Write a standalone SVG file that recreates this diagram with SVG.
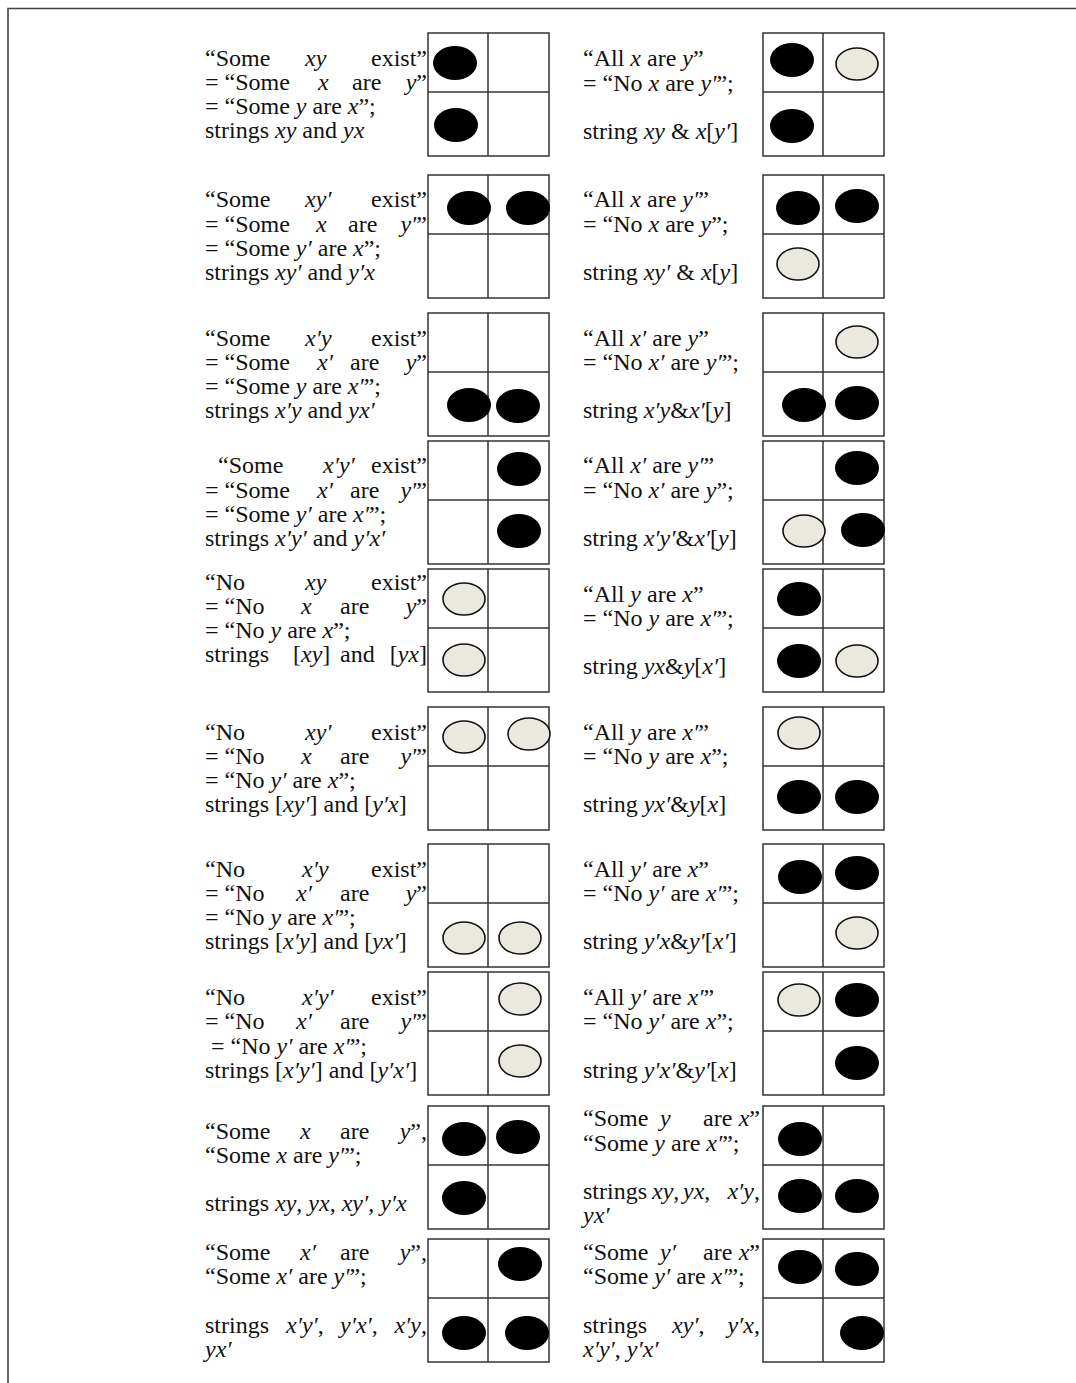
<svg xmlns="http://www.w3.org/2000/svg" xmlns:xlink="http://www.w3.org/1999/xlink" width="1076" height="1383" viewBox="0 0 1076 1383">
<style>
.t{font-family:"Liberation Serif","Times New Roman",serif;font-size:24px;fill:#111}
.i{font-style:italic}
.e{text-anchor:end}
.box rect{fill:none;stroke:#333;stroke-width:1.5}
.box line{stroke:#333;stroke-width:1.5}
.b{fill:#000}
.w{fill:#ebe8df;stroke:#111;stroke-width:1.6}
.frame{stroke:#444;stroke-width:1.6;fill:none}
</style>
<defs>
<g id="grid" class="box"><rect x="0" y="0" width="121" height="123"/><line x1="60" y1="0" x2="60" y2="123"/><line x1="0" y1="59" x2="121" y2="59"/></g>
</defs>
<rect width="1076" height="1383" fill="#fff"/>
<g id="frame"><path class="frame" d="M8,1383 V8.5 H1076"/></g>

<!-- LEFT COLUMN -->
<g id="L1" class="t">
<text y="66"><tspan x="205">“Some</tspan><tspan x="305" class="i">xy</tspan><tspan x="427" class="e">exist”</tspan></text>
<text y="90"><tspan x="205">= “Some</tspan><tspan x="318" class="i">x</tspan><tspan x="352">are</tspan><tspan x="427" class="e"><tspan class="i">y</tspan>”</tspan></text>
<text x="205" y="114">= “Some <tspan class="i">y</tspan> are <tspan class="i">x</tspan>”;</text>
<text x="205" y="138">strings <tspan class="i">xy</tspan> and <tspan class="i">yx</tspan></text>
<use href="#grid" x="428" y="33"/>
<ellipse class="b" cx="455" cy="63" rx="22" ry="17"/><ellipse class="b" cx="456" cy="125" rx="22" ry="17"/>
</g>
<g id="L2" class="t">
<text y="207"><tspan x="205">“Some</tspan><tspan x="305" class="i">xy′</tspan><tspan x="427" class="e">exist”</tspan></text>
<text y="232"><tspan x="205">= “Some</tspan><tspan x="316" class="i">x</tspan><tspan x="348">are</tspan><tspan x="427" class="e"><tspan class="i">y′</tspan>”</tspan></text>
<text x="205" y="256">= “Some <tspan class="i">y′</tspan> are <tspan class="i">x</tspan>”;</text>
<text x="205" y="280">strings <tspan class="i">xy′</tspan> and <tspan class="i">y′x</tspan></text>
<use href="#grid" x="428" y="175"/>
<ellipse class="b" cx="469" cy="208" rx="22" ry="17"/><ellipse class="b" cx="528" cy="208" rx="22" ry="17"/>
</g>
<g id="L3" class="t">
<text y="346"><tspan x="205">“Some</tspan><tspan x="305" class="i">x′y</tspan><tspan x="427" class="e">exist”</tspan></text>
<text y="370"><tspan x="205">= “Some</tspan><tspan x="317" class="i">x′</tspan><tspan x="350">are</tspan><tspan x="427" class="e"><tspan class="i">y</tspan>”</tspan></text>
<text x="205" y="394">= “Some <tspan class="i">y</tspan> are <tspan class="i">x′</tspan>”;</text>
<text x="205" y="418">strings <tspan class="i">x′y</tspan> and <tspan class="i">yx′</tspan></text>
<use href="#grid" x="428" y="313"/>
<ellipse class="b" cx="469" cy="405" rx="22" ry="17"/><ellipse class="b" cx="518" cy="406" rx="22" ry="17"/>
</g>
<g id="L4" class="t">
<text y="473"><tspan x="218">“Some</tspan><tspan x="323" class="i">x′y′</tspan><tspan x="427" class="e">exist”</tspan></text>
<text y="498"><tspan x="205">= “Some</tspan><tspan x="317" class="i">x′</tspan><tspan x="350">are</tspan><tspan x="427" class="e"><tspan class="i">y′</tspan>”</tspan></text>
<text x="205" y="522">= “Some <tspan class="i">y′</tspan> are <tspan class="i">x′</tspan>”;</text>
<text x="205" y="546">strings <tspan class="i">x′y′</tspan> and <tspan class="i">y′x′</tspan></text>
<use href="#grid" x="428" y="441"/>
<ellipse class="b" cx="519" cy="469" rx="22" ry="17"/><ellipse class="b" cx="519" cy="531" rx="22" ry="17"/>
</g>
<g id="L5" class="t">
<text y="590"><tspan x="205">“No</tspan><tspan x="305" class="i">xy</tspan><tspan x="427" class="e">exist”</tspan></text>
<text y="614"><tspan x="205">= “No</tspan><tspan x="301" class="i">x</tspan><tspan x="340">are</tspan><tspan x="427" class="e"><tspan class="i">y</tspan>”</tspan></text>
<text x="205" y="638">= “No <tspan class="i">y</tspan> are <tspan class="i">x</tspan>”;</text>
<text y="662"><tspan x="205">strings</tspan><tspan x="293">[<tspan class="i">xy</tspan>]</tspan><tspan x="340">and</tspan><tspan x="427" class="e">[<tspan class="i">yx</tspan>]</tspan></text>
<use href="#grid" x="428" y="569"/>
<ellipse class="w" cx="464" cy="599" rx="21" ry="16"/><ellipse class="w" cx="464" cy="660" rx="21" ry="16"/>
</g>
<g id="L6" class="t">
<text y="740"><tspan x="205">“No</tspan><tspan x="305" class="i">xy′</tspan><tspan x="427" class="e">exist”</tspan></text>
<text y="764"><tspan x="205">= “No</tspan><tspan x="301" class="i">x</tspan><tspan x="340">are</tspan><tspan x="427" class="e"><tspan class="i">y′</tspan>”</tspan></text>
<text x="205" y="788">= “No <tspan class="i">y′</tspan> are <tspan class="i">x</tspan>”;</text>
<text x="205" y="812">strings [<tspan class="i">xy′</tspan>] and [<tspan class="i">y′x</tspan>]</text>
<use href="#grid" x="428" y="707"/>
<ellipse class="w" cx="464" cy="737" rx="21" ry="16"/><ellipse class="w" cx="529" cy="734" rx="21" ry="16"/>
</g>
<g id="L7" class="t">
<text y="877"><tspan x="205">“No</tspan><tspan x="302" class="i">x′y</tspan><tspan x="427" class="e">exist”</tspan></text>
<text y="901"><tspan x="205">= “No</tspan><tspan x="296" class="i">x′</tspan><tspan x="340">are</tspan><tspan x="427" class="e"><tspan class="i">y</tspan>”</tspan></text>
<text x="205" y="925">= “No <tspan class="i">y</tspan> are <tspan class="i">x′</tspan>”;</text>
<text x="205" y="949">strings [<tspan class="i">x′y</tspan>] and [<tspan class="i">yx′</tspan>]</text>
<use href="#grid" x="428" y="844"/>
<ellipse class="w" cx="464" cy="938" rx="21" ry="16"/><ellipse class="w" cx="520" cy="938" rx="21" ry="16"/>
</g>
<g id="L8" class="t">
<text y="1005"><tspan x="205">“No</tspan><tspan x="302" class="i">x′y′</tspan><tspan x="427" class="e">exist”</tspan></text>
<text y="1029"><tspan x="205">= “No</tspan><tspan x="296" class="i">x′</tspan><tspan x="340">are</tspan><tspan x="427" class="e"><tspan class="i">y′</tspan>”</tspan></text>
<text x="211" y="1054">= “No <tspan class="i">y′</tspan> are <tspan class="i">x′</tspan>”;</text>
<text x="205" y="1078">strings [<tspan class="i">x′y′</tspan>] and [<tspan class="i">y′x′</tspan>]</text>
<use href="#grid" x="428" y="972"/>
<ellipse class="w" cx="520" cy="999" rx="21" ry="16"/><ellipse class="w" cx="520" cy="1061" rx="21" ry="16"/>
</g>
<g id="L9" class="t">
<text y="1139"><tspan x="205">“Some</tspan><tspan x="300" class="i">x</tspan><tspan x="340">are</tspan><tspan x="427" class="e"><tspan class="i">y</tspan>”,</tspan></text>
<text x="205" y="1163">“Some <tspan class="i">x</tspan> are <tspan class="i">y′</tspan>”;</text>
<text x="205" y="1211">strings <tspan class="i">xy</tspan>, <tspan class="i">yx</tspan>, <tspan class="i">xy′</tspan>, <tspan class="i">y′x</tspan></text>
<use href="#grid" x="428" y="1106"/>
<ellipse class="b" cx="464" cy="1139" rx="22" ry="17"/><ellipse class="b" cx="518" cy="1137" rx="22" ry="17"/><ellipse class="b" cx="464" cy="1198" rx="22" ry="17"/>
</g>
<g id="L10" class="t">
<text y="1260"><tspan x="205">“Some</tspan><tspan x="300" class="i">x′</tspan><tspan x="340">are</tspan><tspan x="427" class="e"><tspan class="i">y</tspan>”,</tspan></text>
<text x="205" y="1284">“Some <tspan class="i">x′</tspan> are <tspan class="i">y′</tspan>”;</text>
<text y="1333"><tspan x="205">strings</tspan><tspan x="286"><tspan class="i">x′y′</tspan>,</tspan><tspan x="340"><tspan class="i">y′x′</tspan>,</tspan><tspan x="427" class="e"><tspan class="i">x′y</tspan>,</tspan></text>
<text x="205" y="1357" class="i">yx′</text>
<use href="#grid" x="428" y="1239"/>
<ellipse class="b" cx="520" cy="1264" rx="22" ry="17"/><ellipse class="b" cx="464" cy="1333" rx="22" ry="17"/><ellipse class="b" cx="527" cy="1333" rx="22" ry="17"/>
</g>

<!-- RIGHT COLUMN -->
<g id="R1" class="t">
<text x="583" y="66">“All <tspan class="i">x</tspan> are <tspan class="i">y</tspan>”</text>
<text x="583" y="91">= “No <tspan class="i">x</tspan> are <tspan class="i">y′</tspan>”;</text>
<text x="583" y="139">string <tspan class="i">xy</tspan> &amp; <tspan class="i">x</tspan>[<tspan class="i">y′</tspan>]</text>
<use href="#grid" x="763" y="33"/>
<ellipse class="b" cx="792" cy="60" rx="22" ry="17"/><ellipse class="w" cx="857" cy="64" rx="21" ry="16"/><ellipse class="b" cx="792" cy="126" rx="22" ry="17"/>
</g>
<g id="R2" class="t">
<text x="583" y="207">“All <tspan class="i">x</tspan> are <tspan class="i">y′</tspan>”</text>
<text x="583" y="232">= “No <tspan class="i">x</tspan> are <tspan class="i">y</tspan>”;</text>
<text x="583" y="280">string <tspan class="i">xy′</tspan> &amp; <tspan class="i">x</tspan>[<tspan class="i">y</tspan>]</text>
<use href="#grid" x="763" y="175"/>
<ellipse class="b" cx="798" cy="208" rx="22" ry="17"/><ellipse class="b" cx="857" cy="206" rx="22" ry="17"/><ellipse class="w" cx="798" cy="264" rx="21" ry="16"/>
</g>
<g id="R3" class="t">
<text x="583" y="346">“All <tspan class="i">x′</tspan> are <tspan class="i">y</tspan>”</text>
<text x="583" y="370">= “No <tspan class="i">x′</tspan> are <tspan class="i">y′</tspan>”;</text>
<text x="583" y="418">string <tspan class="i">x′y</tspan>&amp;<tspan class="i">x′</tspan>[<tspan class="i">y</tspan>]</text>
<use href="#grid" x="763" y="313"/>
<ellipse class="w" cx="857" cy="342" rx="21" ry="16"/><ellipse class="b" cx="804" cy="405" rx="22" ry="17"/><ellipse class="b" cx="857" cy="403" rx="22" ry="17"/>
</g>
<g id="R4" class="t">
<text x="583" y="473">“All <tspan class="i">x′</tspan> are <tspan class="i">y′</tspan>”</text>
<text x="583" y="498">= “No <tspan class="i">x′</tspan> are <tspan class="i">y</tspan>”;</text>
<text x="583" y="546">string <tspan class="i">x′y′</tspan>&amp;<tspan class="i">x′</tspan>[<tspan class="i">y</tspan>]</text>
<use href="#grid" x="763" y="441"/>
<ellipse class="b" cx="857" cy="468" rx="22" ry="17"/><ellipse class="w" cx="804" cy="531" rx="21" ry="16"/><ellipse class="b" cx="863" cy="530" rx="22" ry="17"/>
</g>
<g id="R5" class="t">
<text x="583" y="602">“All <tspan class="i">y</tspan> are <tspan class="i">x</tspan>”</text>
<text x="583" y="626">= “No <tspan class="i">y</tspan> are <tspan class="i">x′</tspan>”;</text>
<text x="583" y="674">string <tspan class="i">yx</tspan>&amp;<tspan class="i">y</tspan>[<tspan class="i">x′</tspan>]</text>
<use href="#grid" x="763" y="569"/>
<ellipse class="b" cx="799" cy="599" rx="22" ry="17"/><ellipse class="b" cx="799" cy="661" rx="22" ry="17"/><ellipse class="w" cx="857" cy="661" rx="21" ry="16"/>
</g>
<g id="R6" class="t">
<text x="583" y="740">“All <tspan class="i">y</tspan> are <tspan class="i">x′</tspan>”</text>
<text x="583" y="764">= “No <tspan class="i">y</tspan> are <tspan class="i">x</tspan>”;</text>
<text x="583" y="812">string <tspan class="i">yx′</tspan>&amp;<tspan class="i">y</tspan>[<tspan class="i">x</tspan>]</text>
<use href="#grid" x="763" y="707"/>
<ellipse class="w" cx="799" cy="733" rx="21" ry="16"/><ellipse class="b" cx="799" cy="797" rx="22" ry="17"/><ellipse class="b" cx="857" cy="797" rx="22" ry="17"/>
</g>
<g id="R7" class="t">
<text x="583" y="877">“All <tspan class="i">y′</tspan> are <tspan class="i">x</tspan>”</text>
<text x="583" y="901">= “No <tspan class="i">y′</tspan> are <tspan class="i">x′</tspan>”;</text>
<text x="583" y="949">string <tspan class="i">y′x</tspan>&amp;<tspan class="i">y′</tspan>[<tspan class="i">x′</tspan>]</text>
<use href="#grid" x="763" y="844"/>
<ellipse class="b" cx="800" cy="877" rx="22" ry="17"/><ellipse class="b" cx="857" cy="873" rx="22" ry="17"/><ellipse class="w" cx="857" cy="933" rx="21" ry="16"/>
</g>
<g id="R8" class="t">
<text x="583" y="1005">“All <tspan class="i">y′</tspan> are <tspan class="i">x′</tspan>”</text>
<text x="583" y="1029">= “No <tspan class="i">y′</tspan> are <tspan class="i">x</tspan>”;</text>
<text x="583" y="1078">string <tspan class="i">y′x′</tspan>&amp;<tspan class="i">y′</tspan>[<tspan class="i">x</tspan>]</text>
<use href="#grid" x="763" y="972"/>
<ellipse class="w" cx="799" cy="1000" rx="21" ry="16"/><ellipse class="b" cx="857" cy="1000" rx="22" ry="17"/><ellipse class="b" cx="857" cy="1063" rx="22" ry="17"/>
</g>
<g id="R9" class="t">
<text y="1126"><tspan x="583">“Some</tspan><tspan x="660" class="i">y</tspan><tspan x="703">are</tspan><tspan x="760" class="e"><tspan class="i">x</tspan>”</tspan></text>
<text x="583" y="1151">“Some <tspan class="i">y</tspan> are <tspan class="i">x′</tspan>”;</text>
<text y="1199"><tspan x="583">strings</tspan><tspan x="652"><tspan class="i">xy</tspan>,</tspan><tspan x="683"><tspan class="i">yx</tspan>,</tspan><tspan x="760" class="e"><tspan class="i">x′y</tspan>,</tspan></text>
<text x="583" y="1223" class="i">yx′</text>
<use href="#grid" x="763" y="1106"/>
<ellipse class="b" cx="800" cy="1139" rx="22" ry="17"/><ellipse class="b" cx="800" cy="1196" rx="22" ry="17"/><ellipse class="b" cx="857" cy="1196" rx="22" ry="17"/>
</g>
<g id="R10" class="t">
<text y="1260"><tspan x="583">“Some</tspan><tspan x="660" class="i">y′</tspan><tspan x="703">are</tspan><tspan x="760" class="e"><tspan class="i">x</tspan>”</tspan></text>
<text x="583" y="1284">“Some <tspan class="i">y′</tspan> are <tspan class="i">x′</tspan>”;</text>
<text y="1333"><tspan x="583">strings</tspan><tspan x="672"><tspan class="i">xy′</tspan>,</tspan><tspan x="760" class="e"><tspan class="i">y′x</tspan>,</tspan></text>
<text x="583" y="1357"><tspan class="i">x′y′</tspan>, <tspan class="i">y′x′</tspan></text>
<use href="#grid" x="763" y="1239"/>
<ellipse class="b" cx="800" cy="1267" rx="22" ry="17"/><ellipse class="b" cx="857" cy="1269" rx="22" ry="17"/><ellipse class="b" cx="862" cy="1333" rx="22" ry="17"/>
</g>
</svg>
